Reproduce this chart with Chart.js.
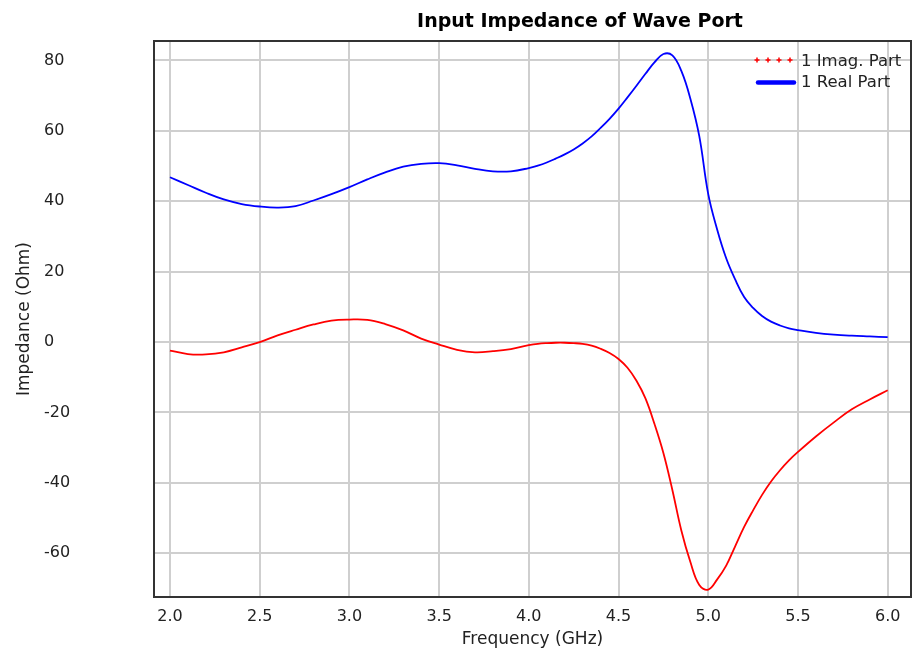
<!DOCTYPE html>
<html>
<head>
<meta charset="utf-8">
<title>Input Impedance of Wave Port</title>
<script src="https://cdn.jsdelivr.net/npm/chart.js@4.4.1/dist/chart.umd.min.js"></script>
<style>
    body { margin: 0; background: #fff; }
    canvas { display: block; }
</style>
</head>
<body>
<canvas id="impedanceChart" width="918" height="650"></canvas>
<script>
const chartTitle = 'Input Impedance of Wave Port';
const xAxisTitle = 'Frequency (GHz)';
const yAxisTitle = 'Impedance (Ohm)';

const freqGHz = [2.0, 2.1, 2.2, 2.3, 2.4, 2.5, 2.6, 2.7, 2.8, 2.9,
    3.0, 3.1, 3.2, 3.3, 3.4, 3.5, 3.6, 3.7, 3.8, 3.9,
    4.0, 4.05, 4.1, 4.15, 4.2, 4.25, 4.3, 4.35, 4.4, 4.45,
    4.5, 4.55, 4.6, 4.65, 4.7, 4.75, 4.8, 4.85, 4.9, 4.95,
    5.0, 5.05, 5.1, 5.15, 5.2, 5.25, 5.3, 5.35, 5.4, 5.45,
    5.5, 5.6, 5.7, 5.8, 5.9, 6.0];

const imagPart = [-2.4, -3.4, -3.5, -2.9, -1.5, 0.0, 1.9, 3.5, 5.0, 6.1,
    6.4, 6.3, 5.1, 3.3, 1.0, -0.7, -2.2, -2.9, -2.6, -2.0,
    -0.9, -0.5, -0.3, -0.2, -0.2, -0.3, -0.5, -1.0, -1.9, -3.1,
    -4.8, -7.3, -11.0, -16.0, -23.2, -31.5, -42.0, -53.5, -62.4, -69.0,
    -70.3, -67.4, -63.5, -58.0, -52.5, -47.8, -43.4, -39.6, -36.4, -33.6,
    -31.2, -26.8, -22.8, -19.1, -16.3, -13.7];

const realPart = [46.8, 44.6, 42.4, 40.5, 39.2, 38.5, 38.2, 38.6, 40.2, 42.0,
    44.0, 46.2, 48.2, 49.8, 50.6, 50.8, 50.2, 49.2, 48.5, 48.5,
    49.4, 50.1, 51.0, 52.1, 53.3, 54.7, 56.4, 58.4, 60.8, 63.4,
    66.3, 69.5, 72.8, 76.2, 79.4, 81.8, 81.4, 77.0, 69.2, 58.5,
    42.0, 31.9, 23.8, 17.8, 12.8, 9.7, 7.4, 5.8, 4.7, 3.9,
    3.4, 2.6, 2.1, 1.8, 1.6, 1.4];

const xTicks = [2.0, 2.5, 3.0, 3.5, 4.0, 4.5, 5.0, 5.5, 6.0];
const yTicks = [-60, -40, -20, 0, 20, 40, 60, 80];

Chart.defaults.font.family = '"DejaVu Sans", sans-serif';
Chart.defaults.color = '#222';

// title sits right of centre in the original, so it is drawn by hand
const titlePlugin = {
    id: 'plotTitle',
    afterDraw(chart) {
        const ctx = chart.ctx;
        ctx.save();
        ctx.font = 'bold 19px "DejaVu Sans", sans-serif';
        ctx.fillStyle = '#000';
        ctx.textAlign = 'center';
        ctx.textBaseline = 'middle';
        ctx.fillText(chartTitle, 580, 22);
        ctx.restore();
    }
};

const framePlugin = {
    id: 'plotFrame',
    afterDraw(chart) {
        const a = chart.chartArea;
        const ctx = chart.ctx;
        ctx.save();
        ctx.strokeStyle = '#333';
        ctx.lineWidth = 2;
        ctx.strokeRect(a.left, a.top, a.right - a.left, a.bottom - a.top);
        ctx.restore();
    }
};

// legend in the top right corner of the plot
const legendPlugin = {
    id: 'cornerLegend',
    afterDraw(chart) {
        const ctx = chart.ctx;
        ctx.save();
        ctx.font = '16.5px "DejaVu Sans", sans-serif';
        ctx.textBaseline = 'middle';
        ctx.textAlign = 'left';
        chart.data.datasets.forEach((ds, i) => {
            const y = 61.5 + i * 21;
            ctx.strokeStyle = ds.borderColor;
            if (ds.legendStyle === 'plus') {
                ctx.lineWidth = 1.5;
                [757, 768, 779, 790].forEach(px => {
                    ctx.beginPath();
                    ctx.moveTo(px - 2.5, y - 1.5);
                    ctx.lineTo(px + 2.5, y - 1.5);
                    ctx.moveTo(px, y - 4);
                    ctx.lineTo(px, y + 1);
                    ctx.stroke();
                });
            } else {
                ctx.lineWidth = 4.5;
                ctx.lineCap = 'round';
                ctx.beginPath();
                ctx.moveTo(758, y);
                ctx.lineTo(794, y);
                ctx.stroke();
            }
            ctx.fillStyle = '#222';
            ctx.fillText(ds.label, 801, y);
        });
        ctx.restore();
    }
};

new Chart(document.getElementById('impedanceChart').getContext('2d'), {
    type: 'line',
    data: {
        datasets: [{
            label: '1 Imag. Part',
            data: freqGHz.map((f, i) => ({ x: f, y: imagPart[i] })),
            borderColor: '#ff0000',
            borderWidth: 1.8,
            pointRadius: 0,
            tension: 0.4,
            legendStyle: 'plus'
        }, {
            label: '1 Real Part',
            data: freqGHz.map((f, i) => ({ x: f, y: realPart[i] })),
            borderColor: '#0000ff',
            borderWidth: 1.8,
            pointRadius: 0,
            tension: 0.4,
            legendStyle: 'line'
        }]
    },
    options: {
        responsive: false,
        animation: false,
        devicePixelRatio: 1,
        layout: {
            padding: { left: 44, top: 41, right: 7, bottom: 0 }
        },
        plugins: {
            legend: { display: false },
            title: { display: false },
            tooltip: { enabled: false }
        },
        scales: {
            x: {
                type: 'linear',
                min: 1.911,
                max: 6.13,
                afterBuildTicks: scale => { scale.ticks = xTicks.map(v => ({ value: v })); },
                afterFit: scale => { scale.height = 53; },
                ticks: {
                    autoSkip: false,
                    maxRotation: 0,
                    padding: 10,
                    font: { size: 16 },
                    color: '#222',
                    callback: v => v.toFixed(1)
                },
                grid: { color: '#cfcfcf', lineWidth: 2, drawTicks: false },
                border: { display: false },
                title: {
                    display: true,
                    text: xAxisTitle,
                    font: { size: 17 },
                    color: '#222',
                    padding: { top: 0, bottom: 0 }
                }
            },
            y: {
                min: -72.4,
                max: 85.5,
                afterBuildTicks: scale => { scale.ticks = yTicks.map(v => ({ value: v })); },
                afterFit: scale => { scale.width = 110; },
                ticks: {
                    crossAlign: 'far',
                    font: { size: 16 },
                    color: '#222'
                },
                grid: { color: '#cfcfcf', lineWidth: 2, drawTicks: false },
                border: { display: false },
                title: {
                    display: true,
                    text: yAxisTitle,
                    font: { size: 17 },
                    color: '#222',
                    padding: { top: -30, bottom: 0 }
                }
            }
        }
    },
    plugins: [titlePlugin, framePlugin, legendPlugin]
});
</script>
</body>
</html>
